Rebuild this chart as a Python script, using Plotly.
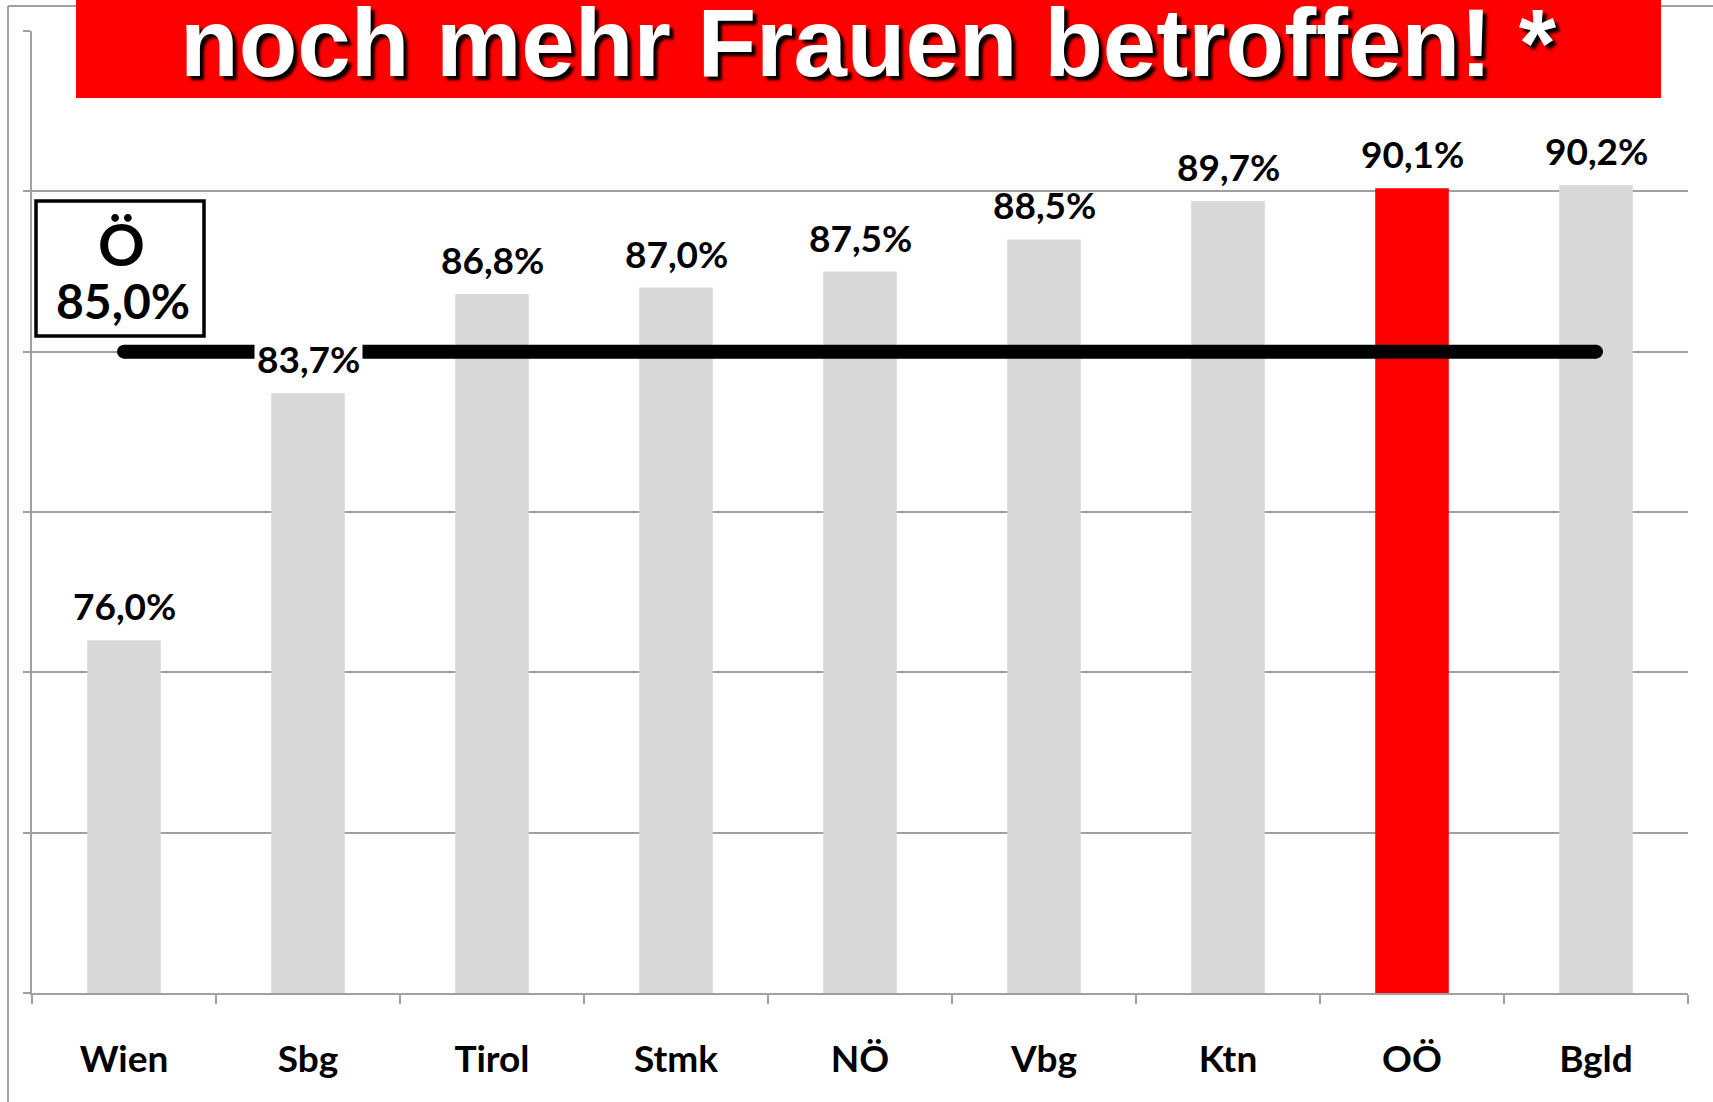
import plotly.graph_objects as go

# ---- data ----
categories = ["Wien", "Sbg", "Tirol", "Stmk", "NÖ", "Vbg", "Ktn", "OÖ", "Bgld"]
values = [76.0, 83.7, 86.8, 87.0, 87.5, 88.5, 89.7, 90.1, 90.2]
highlight = "OÖ"
avg_label = "Ö"
avg_value = 85.0
title_text = "noch mehr Frauen betroffen! *"
y_min, y_max, y_step = 65, 95, 5

W, H = 1713, 1102
L, R, T, B = 32, 25, 31, 109
pw, ph = W - L - R, H - T - B


def px_x(p):
    return (p - L) / pw


def px_y(p):
    return (H - B - p) / ph


def fmt(v):
    return f"{v:.1f}".replace(".", ",") + "%"


GREY = "#d9d9d9"
RED = "#ff0000"
GRID = "#a0a0a0"
FONT = "Lato, Noto Sans, sans-serif"

colors = [RED if c == highlight else GREY for c in categories]

fig = go.Figure()
fig.add_trace(go.Bar(x=categories, y=values, marker=dict(color=colors, line=dict(width=0)),
                     width=0.4, hoverinfo="skip", showlegend=False))
# average line from first to last category
fig.add_trace(go.Scatter(x=[categories[0], categories[-1]], y=[avg_value, avg_value],
                         mode="lines+markers", line=dict(color="black", width=14),
                         marker=dict(color="black", size=14), hoverinfo="skip", showlegend=False))

annotations = []
for c, v in zip(categories, values):
    annotations.append(dict(x=c, y=v, xref="x", yref="y", text=f"<b>{fmt(v)}</b>",
                            showarrow=False, yanchor="bottom", yshift=9,
                            font=dict(family=FONT, size=37, color="black"),
                            bgcolor="white" if v < avg_value else "rgba(0,0,0,0)", borderpad=2))

# average box texts
annotations.append(dict(x=px_x(121), y=px_y(244), xref="paper", yref="paper",
                        text=f"<b>{avg_label}</b>", showarrow=False, xanchor="center", yanchor="middle",
                        font=dict(family=FONT, size=58, color="black")))
annotations.append(dict(x=px_x(123), y=px_y(301), xref="paper", yref="paper",
                        text=f"<b>{fmt(avg_value)}</b>", showarrow=False, xanchor="center", yanchor="middle",
                        font=dict(family=FONT, size=48, color="black")))
# title
annotations.append(dict(x=px_x(868), y=px_y(42), xref="paper", yref="paper",
                        text=f"<b>{title_text}</b>", showarrow=False, xanchor="center", yanchor="middle",
                        font=dict(family="Liberation Sans, Arial, sans-serif", size=96, color="white",
                                  shadow="4px 4px 3px #000000")))

shapes = [
    # outer frame (partially off-canvas)
    dict(type="line", xref="paper", yref="paper", x0=px_x(8), x1=px_x(8), y0=px_y(6), y1=px_y(1150),
         line=dict(color=GRID, width=2)),
    dict(type="line", xref="paper", yref="paper", x0=px_x(8), x1=px_x(1760), y0=px_y(6), y1=px_y(6),
         line=dict(color=GRID, width=2)),
    # red banner
    dict(type="rect", xref="paper", yref="paper", x0=px_x(76), x1=px_x(1661), y0=px_y(98), y1=px_y(-5),
         fillcolor=RED, line=dict(width=0), layer="above"),
    # Ö box
    dict(type="rect", xref="paper", yref="paper", x0=px_x(36), x1=px_x(204), y0=px_y(336), y1=px_y(201),
         fillcolor="white", line=dict(color="black", width=3.5), layer="above"),
]

fig.update_layout(
    width=W, height=H,
    margin=dict(l=L, r=R, t=T, b=B, pad=0),
    paper_bgcolor="white", plot_bgcolor="white",
    bargap=0.6,
    annotations=annotations, shapes=shapes,
    xaxis=dict(type="category", range=[-0.5, len(categories) - 0.5],
               showline=True, linecolor=GRID, linewidth=2,
               ticks="outside", tickson="boundaries", ticklen=9, tickcolor=GRID, tickwidth=2,
               tickfont=dict(family=FONT, size=37, color="black"),
               ticklabelstandoff=33, showgrid=False, fixedrange=True),
    yaxis=dict(range=[y_min, y_max], dtick=y_step, tick0=y_min,
               showline=True, linecolor=GRID, linewidth=2,
               ticks="outside", ticklen=7, tickcolor=GRID, tickwidth=2,
               showticklabels=False, showgrid=True, gridcolor=GRID, gridwidth=2,
               zeroline=False, fixedrange=True),
    font=dict(family=FONT),
)
fig.update_xaxes(tickprefix="<b>", ticksuffix="</b>")

fig.write_html("out.html", config={"displayModeBar": False},
               post_script="document.body.style.margin='0';document.body.style.overflow='hidden';")
